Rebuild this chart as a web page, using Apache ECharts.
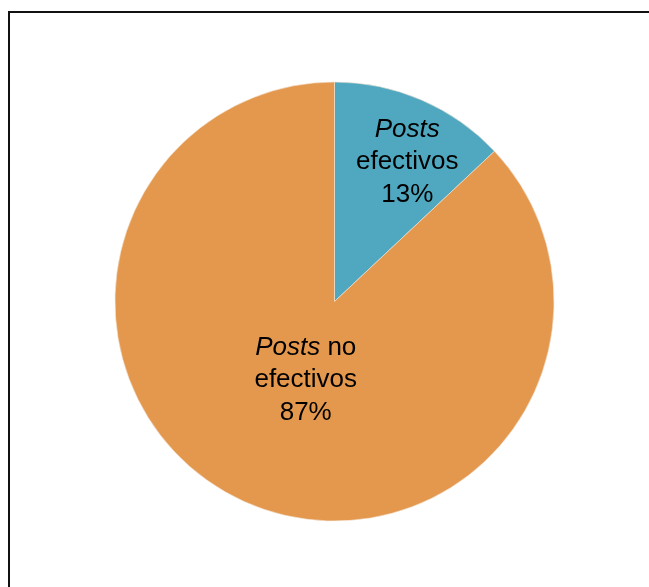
<!DOCTYPE html>
<html>
<head>
<meta charset="utf-8">
<script src="https://cdn.jsdelivr.net/npm/echarts@6/dist/echarts.min.js"></script>
<style>
  html, body { margin: 0; padding: 0; background: #fff; }
  #chart { width: 649px; height: 587px; }
</style>
</head>
<body>
<div id="chart"></div>
<script>
// datos del gráfico
var categorias = ['Posts efectivos', 'Posts no efectivos'];
var valores = [13, 87];
var colores = ['#4FA8BF', '#E3984E'];
// desplazamiento de cada etiqueta respecto a su posición por defecto
var desplazamientos = [[28, -36], [16, -25]];

var myChart = echarts.init(document.getElementById('chart'));

var option = {
  animation: false,
  backgroundColor: '#fff',
  // marco del gráfico (solo arriba e izquierda)
  graphic: [
    {
      type: 'polyline',
      shape: { points: [[9, 587], [9, 12], [649, 12]] },
      style: { stroke: '#111', lineWidth: 2, fill: null }
    }
  ],
  series: [
    {
      type: 'pie',
      center: [334.5, 301.5],
      radius: [0, 219.5],
      startAngle: 90,
      clockwise: true,
      avoidLabelOverlap: false,
      itemStyle: {
        borderColor: '#f4e6d6',
        borderWidth: 0.6
      },
      label: {
        show: true,
        position: 'inside',
        color: '#000',
        fontFamily: 'Liberation Sans, Arial, sans-serif',
        fontSize: 26,
        lineHeight: 32.5,
        align: 'center',
        formatter: function (p) {
          var nombre = p.dataIndex === 0 ? '{i|Posts}\nefectivos' : '{i|Posts} no\nefectivos';
          return nombre + '\n' + p.value + '%';
        },
        rich: {
          i: {
            fontStyle: 'italic',
            fontFamily: 'Liberation Sans, Arial, sans-serif',
            fontSize: 26,
            lineHeight: 32.5,
            color: '#000'
          }
        }
      },
      labelLine: { show: false },
      emphasis: { disabled: true },
      data: categorias.map(function (c, i) {
        return {
          name: c,
          value: valores[i],
          itemStyle: { color: colores[i] },
          label: { offset: desplazamientos[i] }
        };
      })
    }
  ]
};

myChart.setOption(option);
</script>
</body>
</html>
